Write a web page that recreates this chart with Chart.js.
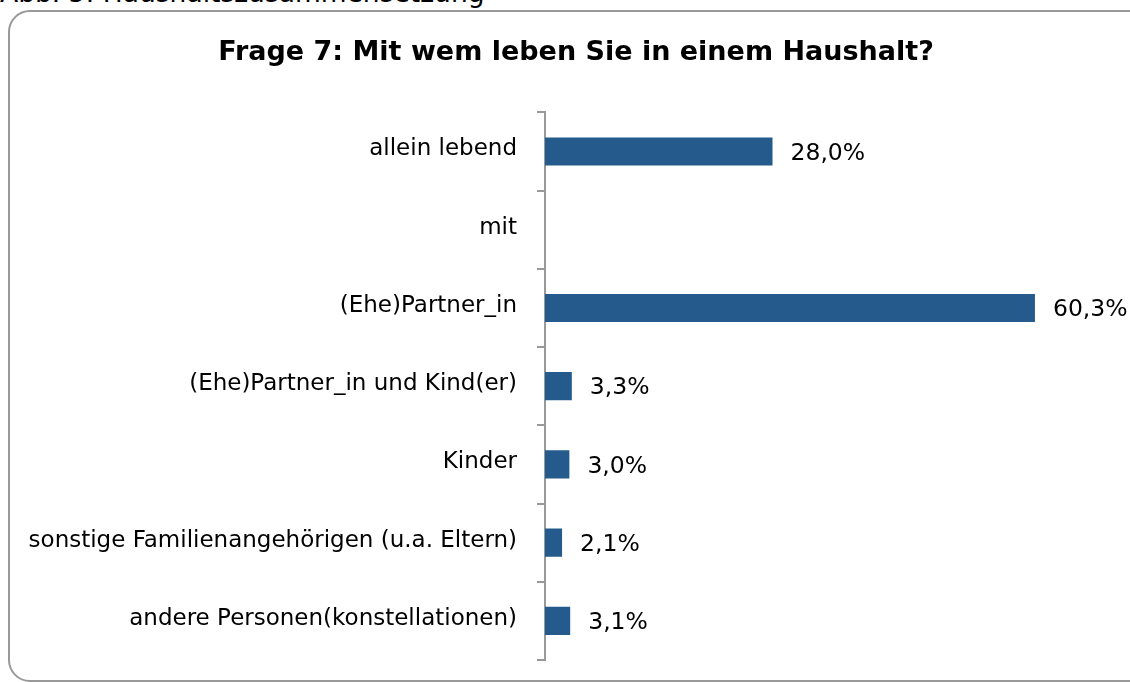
<!DOCTYPE html>
<html>
<head>
<meta charset="utf-8">
<script src="https://cdn.jsdelivr.net/npm/chart.js@4.4.0/dist/chart.umd.min.js"></script>
<style>
  body { margin: 0; background: #fff; overflow: hidden; }
  #wrap { position: relative; width: 1130px; height: 682px; overflow: hidden; }
  #caption { position: absolute; left: 0; top: -23px; font: 26.5px "DejaVu Sans", sans-serif; color: #000; white-space: nowrap; }
  #box { position: absolute; left: 8px; top: 10px; width: 1140px; height: 668px; border: 2px solid #999; border-radius: 22px; }
  #c { position: absolute; left: 0; top: 0; }
</style>
</head>
<body>
<div id="wrap">
  <div id="caption">Abb. 5: Haushaltszusammensetzung</div>
  <div id="box"></div>
  <canvas id="c" width="1130" height="682"></canvas>
</div>
<script>
var categories = [
    'allein lebend',
    'mit',
    '(Ehe)Partner_in',
    '(Ehe)Partner_in und Kind(er)',
    'Kinder',
    'sonstige Familienangehörigen (u.a. Eltern)',
    'andere Personen(konstellationen)'
];
var shares = [28.0, null, 60.3, 3.3, 3.0, 2.1, 3.1];

var barColor = '#245a8c';

// draws the "28,0%" labels next to the bars
var valueLabels = {
    id: 'valueLabels',
    afterDatasetsDraw: function (chart) {
        var ctx = chart.ctx;
        var meta = chart.getDatasetMeta(0);
        ctx.save();
        ctx.font = '23.5px "DejaVu Sans", sans-serif';
        ctx.fillStyle = '#000';
        ctx.textAlign = 'left';
        ctx.textBaseline = 'middle';
        meta.data.forEach(function (bar, i) {
            var v = shares[i];
            if (v === null) return;
            ctx.fillText(v.toFixed(1).replace('.', ',') + '%', bar.x + 18, bar.y + 2);
        });
        ctx.restore();
    }
};

var chart = new Chart(document.getElementById('c').getContext('2d'), {
    type: 'bar',
    data: {
        labels: categories,
        datasets: [{
            data: shares,
            backgroundColor: barColor,
            barPercentage: 0.36,
            categoryPercentage: 1
        }]
    },
    options: {
        indexAxis: 'y',
        responsive: false,
        animation: false,
        layout: { padding: { left: 22, right: 0, top: 0, bottom: 22 } },
        plugins: {
            legend: { display: false },
            tooltip: { enabled: false },
            title: {
                display: true,
                text: 'Frage 7: Mit wem leben Sie in einem Haushalt?',
                color: '#000',
                font: { family: 'DejaVu Sans', size: 27, weight: 'bold' },
                padding: { top: 37, bottom: 43 }
            }
        },
        scales: {
            x: { display: false, min: 0, max: 72 },
            y: {
                afterFit: function (scale) { scale.width = 523; },
                border: { display: true, color: '#999', width: 2 },
                grid: { drawOnChartArea: false, drawTicks: true, tickLength: 8, color: '#999', lineWidth: 2, offset: true },
                // small lineHeight keeps the label padding from shrinking the plot area
                ticks: { color: '#000', padding: 20, labelOffset: -2, font: { family: 'DejaVu Sans', size: 23, lineHeight: 0.1 } }
            }
        }
    },
    plugins: [valueLabels]
});
</script>
</body>
</html>
